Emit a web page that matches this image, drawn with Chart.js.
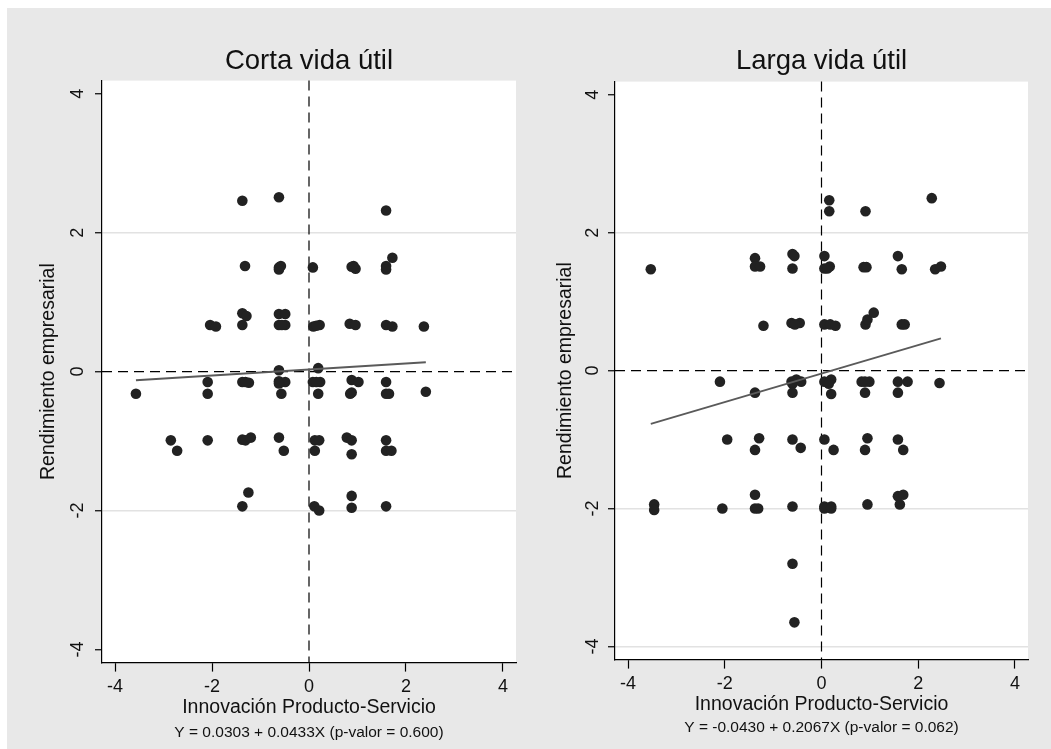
<!DOCTYPE html>
<html>
<head>
<meta charset="utf-8">
<script src="https://cdn.jsdelivr.net/npm/chart.js@4.4.0/dist/chart.umd.min.js"></script>
<style>
  body { margin: 0; background: #fff; }
  #wrap { position: absolute; left: 7px; top: 8px; width: 1044px; height: 741px; background: #e8e8e8; }
  canvas { position: absolute; top: 0; }
  #left { left: 0; }
  #right { left: 533px; }
</style>
</head>
<body>
<div id="wrap">
  <canvas id="left" width="533" height="741"></canvas>
  <canvas id="right" width="511" height="741"></canvas>
</div>
<script>
// Corta vida útil
const shortX = [-1.375, -0.62, 1.59, -1.32, -0.62, -0.58, -0.62, 0.08, 0.88, 0.96, 0.92, 1.59, 1.59, 1.72,
  -2.04, -1.92, -1.375, -1.29, -1.375, -0.62, -0.49, -0.62, -0.49, -0.56, 0.09, 0.22, 0.15, 0.84, 0.96, 1.59, 1.72, 2.37,
  -0.62, 0.19,
  -3.57, -2.09, -2.09, -1.375, -1.24, -1.31, -0.62, -0.49, -0.62, -0.57, 0.08, 0.23, 0.15, 0.19, 0.88, 1.02, 0.88, 0.85, 1.59, 1.59, 1.65, 2.41,
  -2.85, -2.72, -2.09, -1.375, -1.31, -1.2, -0.62, -0.52, 0.12, 0.21, 0.12, 0.78, 0.88, 0.88, 1.59, 1.59, 1.70,
  -1.25, -1.375, 0.11, 0.21, 0.88, 0.88, 1.59];
const shortY = [2.46, 2.51, 2.32, 1.52, 1.50, 1.52, 1.47, 1.50, 1.51, 1.48, 1.52, 1.52, 1.47, 1.64,
  0.67, 0.65, 0.84, 0.80, 0.67, 0.83, 0.83, 0.67, 0.67, 0.67, 0.65, 0.67, 0.66, 0.69, 0.67, 0.67, 0.65, 0.65,
  0.02, 0.05,
  -0.32, -0.15, -0.32, -0.15, -0.16, -0.15, -0.14, -0.15, -0.17, -0.32, -0.15, -0.15, -0.15, -0.32, -0.12, -0.15, -0.30, -0.32, -0.15, -0.32, -0.32, -0.29,
  -0.99, -1.14, -0.99, -0.98, -0.99, -0.95, -0.95, -1.14, -0.99, -0.99, -1.14, -0.95, -0.99, -1.19, -0.99, -1.14, -1.14,
  -1.74, -1.94, -1.94, -2.0, -1.79, -1.96, -1.94];

// Larga vida útil
const longX = [0.16, 0.16, 0.91, 2.28, -3.53, -1.375, -1.375, -1.27, -0.6, -0.56, -0.6, 0.06, 0.06, 0.17, 0.12, 0.87, 0.93, 1.58, 1.66, 2.35, 2.47,
  -1.2, -0.62, -0.45, -0.55, 0.06, 0.18, 0.29, 0.91, 0.95, 1.08, 1.66, 1.72,
  -2.10, -1.375, -0.62, -0.52, -0.42, -0.6, -0.6, 0.06, 0.2, 0.15, 0.2, 0.83, 0.99, 0.9, 0.9, 1.58, 1.78, 1.58, 2.44,
  -1.95, -1.375, -1.29, -0.6, -0.43, 0.06, 0.25, 0.95, 0.9, 1.58, 1.69,
  -3.46, -3.46, -2.05, -1.375, -1.375, -1.31, -0.6, 0.06, 0.2, 0.06, 0.2, 0.95, 1.58, 1.69, 1.62, -0.6, -0.56];
const longY = [2.47, 2.31, 2.31, 2.50, 1.47, 1.63, 1.51, 1.51, 1.69, 1.66, 1.48, 1.66, 1.48, 1.51, 1.48, 1.50, 1.50, 1.66, 1.47, 1.47, 1.51,
  0.65, 0.69, 0.69, 0.67, 0.67, 0.67, 0.65, 0.67, 0.74, 0.84, 0.67, 0.67,
  -0.16, -0.32, -0.16, -0.13, -0.16, -0.19, -0.32, -0.16, -0.13, -0.19, -0.34, -0.16, -0.16, -0.16, -0.32, -0.16, -0.16, -0.32, -0.18,
  -1.0, -1.15, -0.98, -1.0, -1.12, -1.0, -1.15, -0.98, -1.15, -1.0, -1.15,
  -1.94, -2.02, -2.0, -1.80, -2.0, -2.0, -1.97, -1.97, -1.97, -2.0, -2.0, -1.94, -1.82, -1.80, -1.94, -2.80, -3.65];

// Y = a + bX
const shortFit = [0.0303, 0.0433];
const longFit = [-0.0430, 0.2067];

const xTicks = [-4, -2, 0, 2, 4];
const yTicks = [-4, -2, 0, 2, 4];
const refLines = [0];

const FONT = '"Liberation Sans", Arial, sans-serif';

const plotBg = {
  id: 'plotBg',
  beforeDraw(chart) {
    const { ctx, chartArea: a } = chart;
    ctx.save();
    ctx.fillStyle = '#fff';
    ctx.fillRect(a.left, a.top, a.right - a.left, a.bottom - a.top);
    ctx.restore();
  }
};

// dashed lines at 0 on both axes
const zeroLines = {
  id: 'zeroLines',
  beforeDatasetsDraw(chart) {
    const { ctx, chartArea: a, scales: { x, y } } = chart;
    ctx.save();
    ctx.strokeStyle = '#000';
    ctx.lineWidth = 1.2;
    ctx.setLineDash([10, 6]);
    refLines.forEach(v => {
      const px = x.getPixelForValue(v);
      ctx.beginPath(); ctx.moveTo(px, a.top); ctx.lineTo(px, a.bottom); ctx.stroke();
      const py = y.getPixelForValue(v);
      ctx.beginPath(); ctx.moveTo(a.left, py); ctx.lineTo(a.right, py); ctx.stroke();
    });
    ctx.restore();
  }
};

function makePanel(id, title, xs, ys, fit, gridAt, p) {
  const lo = Math.min(...xs), hi = Math.max(...xs);
  const line = [lo, hi].map(v => ({ x: v, y: fit[0] + fit[1] * v }));
  const pts = xs.map((v, i) => ({ x: v, y: ys[i] }));
  const sign = fit[0] < 0 ? '-' : '';
  const note = `Y = ${sign}${Math.abs(fit[0]).toFixed(4)} + ${fit[1].toFixed(4)}X (p-valor = ${p.pval})`;

  return new Chart(document.getElementById(id), {
    type: 'scatter',
    data: {
      datasets: [
        { type: 'line', data: line, borderColor: '#5a5a5a', borderWidth: 1.8, pointRadius: 0, fill: false },
        { data: pts, backgroundColor: '#222', borderWidth: 0, pointRadius: 5.3, pointHoverRadius: 5.3 }
      ]
    },
    options: {
      responsive: false,
      animation: false,
      events: [],
      layout: { padding: { left: 0, right: p.padRight, top: 0, bottom: 0 } },
      plugins: {
        legend: { display: false },
        tooltip: { enabled: false },
        title: {
          display: true, fullSize: false, text: title, color: '#111',
          font: { family: FONT, size: 27.5, weight: 'normal' },
          padding: { top: 37.3, bottom: p.titleGap }
        },
        subtitle: {
          display: true, fullSize: false, position: 'bottom', text: note, color: '#111',
          font: { family: FONT, size: 15.5, weight: 'normal' },
          padding: { top: p.noteTop, bottom: p.noteBottom }
        }
      },
      scales: {
        x: {
          type: 'linear', min: -4.27, max: 4.27,
          afterBuildTicks: s => { s.ticks = xTicks.map(v => ({ value: v })); },
          afterFit: s => { s.height = 57; },
          border: { color: '#000', width: 1.2 },
          grid: { drawOnChartArea: false, tickLength: 9, tickColor: '#000', tickWidth: 1.2 },
          ticks: { color: '#111', font: { family: FONT, size: 18 }, padding: 4.7, maxRotation: 0 },
          title: {
            display: true, text: 'Innovación Producto-Servicio', color: '#111',
            font: { family: FONT, size: 19.5 }, padding: { top: 0, bottom: 0 }
          }
        },
        y: {
          type: 'linear', min: -4.19, max: 4.19,
          afterBuildTicks: s => { s.ticks = yTicks.map(v => ({ value: v })); },
          afterFit: s => { s.width = p.yWidth; },
          border: { color: '#000', width: 1.2 },
          grid: {
            color: c => gridAt.includes(c.tick.value) ? '#e2e2e2' : 'transparent',
            lineWidth: 1.5, tickLength: 7, tickColor: '#000', tickWidth: 1.2
          },
          ticks: {
            color: '#111', font: { family: FONT, size: 18 },
            minRotation: 90, maxRotation: 90, crossAlign: 'center', padding: p.yTickPad
          },
          title: {
            display: true, text: 'Rendimiento empresarial', color: '#111',
            font: { family: FONT, size: 19.5 }, padding: { top: p.yTitlePad, bottom: 0 }
          }
        }
      }
    },
    plugins: [plotBg, zeroLines]
  });
}

makePanel('left', 'Corta vida útil', shortX, shortY, shortFit, [2, -2],
  { pval: '0.600', padRight: 24, titleGap: 2.3, noteTop: 3.9, noteBottom: 6.9, yWidth: 95, yTickPad: 8.5, yTitlePad: 30.4 });
makePanel('right', 'Larga vida útil', longX, longY, longFit, [2, -2, -4],
  { pval: '0.062', padRight: 23, titleGap: 3.3, noteTop: 1.9, noteBottom: 11.9, yWidth: 75, yTickPad: 7, yTitlePad: 14.4 });
</script>
</body>
</html>
